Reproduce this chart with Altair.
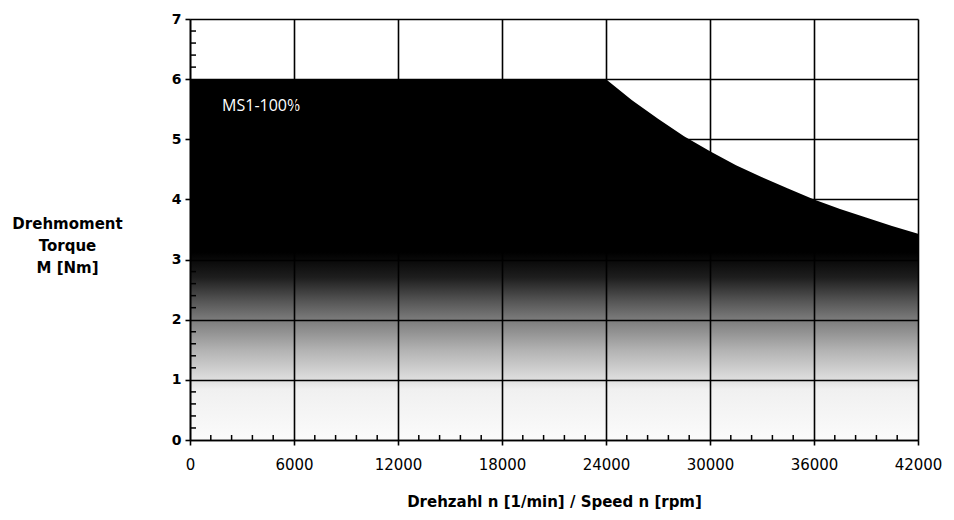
import altair as alt
import pandas as pd

# Torque curve
speed = [0, 24000, 25500, 27000, 28500, 30000, 31500, 33000, 34500, 36000, 37500, 39000, 40500, 42000]
torque = [6.0, 6.0, 5.65, 5.34, 5.05, 4.8, 4.57, 4.37, 4.18, 4.0, 3.84, 3.7, 3.56, 3.43]

x_major = [0, 6000, 12000, 18000, 24000, 30000, 36000, 42000]
y_major = [0, 1, 2, 3, 4, 5, 6, 7]
x_minor = [v for v in range(1200, 42000, 1200) if v % 6000 != 0]
y_minor = [round(i * 0.2, 1) for i in range(1, 35) if i % 5 != 0]

curve_label = "MS1-100%"
x_title = "Drehzahl n [1/min] / Speed n [rpm]"
y_title = ["Drehmoment", "Torque", "M [Nm]"]

W, H = 728, 421

df = pd.DataFrame({"speed": speed, "torque": torque})
df_xm = pd.DataFrame({"speed": x_minor})
df_ym = pd.DataFrame({"torque": y_minor})

xscale = alt.Scale(domain=[0, 42000], nice=False, zero=False)
yscale = alt.Scale(domain=[0, 7], nice=False)

xaxis = alt.Axis(
    values=x_major, format="d", grid=True, gridColor="black", gridWidth=1.6, gridOpacity=1,
    domainColor="black", domainWidth=1.6, tickColor="black", tickWidth=1.6, tickSize=5,
    labelFont="DejaVu Sans", labelFontSize=15, labelColor="black", labelPadding=12,
    labelFlush=False, labelOverlap=False,
    title=x_title, titleFont="DejaVu Sans", titleFontSize=15, titleFontWeight="bold",
    titleColor="black", titlePadding=22, zindex=1,
)
yaxis = alt.Axis(
    values=y_major, grid=True, gridColor="black", gridWidth=1.6, gridOpacity=1,
    domainColor="black", domainWidth=1.6, tickColor="black", tickWidth=1.6, tickSize=5,
    labelFont="DejaVu Sans", labelFontSize=14, labelFontWeight="bold", labelColor="black",
    labelPadding=4, labelFlush=False,
    title=y_title, titleFont="DejaVu Sans", titleFontSize=15, titleFontWeight="bold",
    titleColor="black", titleAngle=0, titleAlign="center", titleBaseline="middle",
    titleX=-123, titleY=204, titleLineHeight=22, zindex=1,
)

X = lambda: alt.X("speed:Q", scale=xscale, axis=xaxis)
Y = lambda: alt.Y("torque:Q", scale=yscale, axis=yaxis)

gradient = alt.Gradient(
    gradient="linear", x1=0, x2=0, y1=0, y2=1,
    stops=[
        alt.GradientStop(color="#000000", offset=0),
        alt.GradientStop(color="#000000", offset=0.48),
        alt.GradientStop(color="#1e1e1e", offset=0.55),
        alt.GradientStop(color="#555555", offset=0.615),
        alt.GradientStop(color="#7c7c7c", offset=0.667),
        alt.GradientStop(color="#b2b2b2", offset=0.75),
        alt.GradientStop(color="#dadada", offset=0.825),
        alt.GradientStop(color="#f0f0f0", offset=0.86),
        alt.GradientStop(color="#fbfbfb", offset=1),
    ],
)

area = alt.Chart(df).mark_area(color=gradient, interpolate="linear").encode(x=X(), y=Y())

ym = alt.Chart(df_ym).mark_rule(color="black", strokeWidth=1.5).encode(
    y=Y(), x=alt.value(0), x2=alt.value(6),
)
xm = alt.Chart(df_xm).mark_rule(color="black", strokeWidth=1.5).encode(
    x=X(), y=alt.value(H), y2=alt.value(H - 5),
)

label = alt.Chart(pd.DataFrame({"t": [curve_label], "speed": [1850], "torque": [5.55]})).mark_text(
    color="white", font="Open Sans", fontSize=16, align="left", baseline="middle"
).encode(x=X(), y=Y(), text="t:N")

chart = alt.layer(area, ym, xm, label).properties(
    width=W, height=H,
    autosize=alt.AutoSizeParams(type="none"),
    padding={"left": 182, "top": 11, "right": 28, "bottom": 72},
    background="white",
).configure_view(stroke=None)

chart.save("out.html", embed_options={"renderer": "svg", "actions": False})
